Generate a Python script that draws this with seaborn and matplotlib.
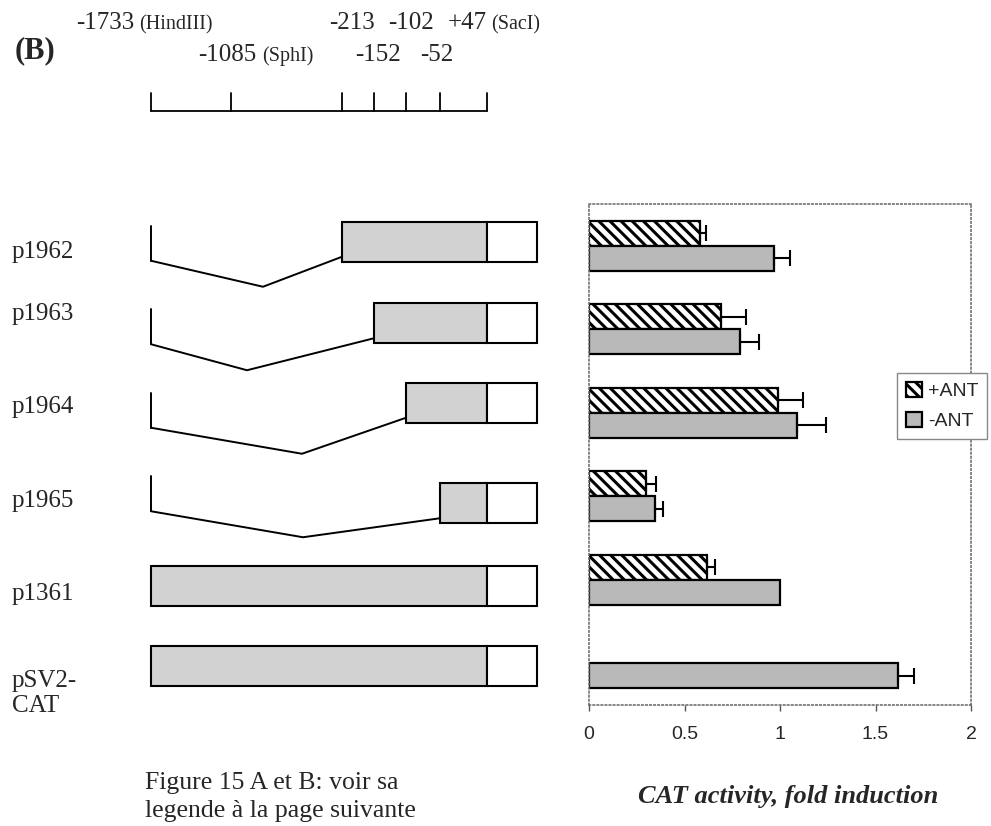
import numpy as np
import pandas as pd
import matplotlib
matplotlib.use('Agg')
import matplotlib.pyplot as plt
import seaborn as sns
from matplotlib.patches import Rectangle

constructs = ['p1962', 'p1963', 'p1964', 'p1965', 'p1361', 'pSV2-\nCAT']
plus_ant = [0.58, 0.69, 0.99, 0.30, 0.62, np.nan]
plus_ant_err = [0.03, 0.13, 0.13, 0.05, 0.04, np.nan]
minus_ant = [0.97, 0.79, 1.09, 0.345, 1.00, 1.62]
minus_ant_err = [0.08, 0.10, 0.15, 0.04, np.nan, 0.08]
x_ticks = [0, 0.5, 1, 1.5, 2]
x_ticklabels = ['0', '0.5', '1', '1.5', '2']

# promoter map, bp positions and where they sit on the drawn scale
map_sites = [-1733, -1085, -213, -152, -102, -52, 47]
site_labels = ['-1733', '-1085', '-213', '-152', '-102', '-52', '+47']
site_enzymes = ['(HindIII)', '(SphI)', '', '', '', '', '(SacI)']
site_x = [151, 231, 342, 374, 406, 440, 487]
fragment_start = [-213, -152, -102, -52, -1733, -1733]
deletion = [True, True, True, True, False, False]
junction_x = [263, 247, 302, 303, None, None]

caption = 'Figure 15 A et B: voir sa\nlegende à la page suivante'

sns.set_style('white')
plt.rcParams['font.family'] = ['Liberation Serif', 'DejaVu Serif']
plt.rcParams['hatch.linewidth'] = 2.2

W, H = 991, 826
ax_top, ax_bot = 204, 705
ax_l, ax_r = 589, 971
pitch = (ax_bot - ax_top) / len(constructs)

fig = plt.figure(figsize=(W / 100, H / 100), dpi=100)

# schematic drawn in pixel units
ax_d = fig.add_axes([0, 0, 1, 1])
ax_d.set_xlim(0, W)
ax_d.set_ylim(H, 0)
ax_d.axis('off')

ax = fig.add_axes([ax_l / W, 1 - ax_bot / H, (ax_r - ax_l) / W, (ax_bot - ax_top) / H])

df = pd.DataFrame({
    'construct': constructs * 2,
    'treatment': ['+ANT'] * len(constructs) + ['-ANT'] * len(constructs),
    'activity': plus_ant + minus_ant,
    'err': plus_ant_err + minus_ant_err,
})

sns.barplot(data=df.dropna(subset=['activity']), x='activity', y='construct',
            hue='treatment', order=constructs, hue_order=['+ANT', '-ANT'],
            orient='h', width=0.6, palette=['white', '#b9b9b9'], saturation=1,
            edgecolor='black', linewidth=1.6, errorbar=None, ax=ax)

for bar in ax.containers[0]:
    bar.set_hatch('\\\\\\')

err_lookup = {(c, t): e for c, t, e in zip(df.construct, df.treatment, df.err)}
for cont, treat in zip(ax.containers, ['+ANT', '-ANT']):
    for bar in cont:
        yc = bar.get_y() + bar.get_height() / 2
        e = err_lookup[(constructs[int(round(yc))], treat)]
        if np.isnan(e):
            continue
        ax.errorbar(bar.get_width(), yc, xerr=[[0], [e]], fmt='none', ecolor='black',
                    elinewidth=1.5, capsize=5.5, capthick=1.5)

ax.set_xlim(0, 2)
ax.set_ylim(len(constructs) - 0.5, -0.5)
ax.set_xticks(x_ticks)
ax.set_xticklabels(x_ticklabels, family='Liberation Sans', fontsize=14)
ax.set_yticks([])
ax.set_ylabel('')
for s in ax.spines.values():
    s.set_visible(True)
    s.set_linestyle(':')
    s.set_color('#666666')
    s.set_linewidth(1.1)
ax.tick_params(axis='x', bottom=True, length=4, width=1, color='#555555', pad=11)

ax.set_xlabel('CAT activity, fold induction', fontsize=19, fontweight='bold',
              fontstyle='italic', family='Liberation Serif')
ax.xaxis.set_label_coords(0.52, (ax_bot - 785) / (ax_bot - ax_top))

ax.legend(handles=list(ax.containers), labels=['+ANT', '-ANT'], loc='upper left',
          bbox_to_anchor=(897 / W, 1 - 373 / H), bbox_transform=fig.transFigure,
          borderaxespad=0, frameon=True, fancybox=False, edgecolor='#888888',
          framealpha=1, prop={'family': 'Liberation Sans', 'size': 14},
          handlelength=0.85, handleheight=0.85, handletextpad=0.3,
          borderpad=0.45, labelspacing=0.6)

# promoter constructs
site_pos = dict(zip(map_sites, site_x))
row_y = [ax_top + pitch * (i + 0.5) for i in range(len(constructs))]
box_dy = [-4, -6, -10, 7, 6, 3]
label_dy = [12, -9, 0, 11, 20, 24]
box_h = 40
cat_end = 537
for i, name in enumerate(constructs):
    yc = row_y[i] + box_dy[i]
    x0 = site_pos[fragment_start[i]]
    x1 = site_pos[47]
    ax_d.add_patch(Rectangle((x0, yc - box_h / 2), x1 - x0, box_h,
                             facecolor='#d2d2d2', edgecolor='black', lw=1.5))
    ax_d.add_patch(Rectangle((x1, yc - box_h / 2), cat_end - x1, box_h,
                             facecolor='white', edgecolor='black', lw=1.5))
    if deletion[i]:
        xs = site_pos[-1733]
        ax_d.plot([xs, xs], [row_y[i] - 20, row_y[i] + 15], color='black', lw=1.4)
        ax_d.plot([xs, junction_x[i], x0], [row_y[i] + 15, row_y[i] + 41, yc + 15],
                  color='black', lw=1.4)
    for k, line in enumerate(name.split('\n')):
        ax_d.text(12, row_y[i] + label_dy[i] + 25 * k, line, fontsize=18, va='baseline')

# map scale
ax_d.plot([site_x[0], site_x[-1]], [111, 111], color='black', lw=1.3)
for x in site_x:
    ax_d.plot([x, x], [93, 111], color='black', lw=1.3)

label_x = [76, 198, 329, 355, 388, 420, 448]
enzyme_x = [139, 262, None, None, None, None, 491]
for k, (lab, enz) in enumerate(zip(site_labels, site_enzymes)):
    base = 29 if k % 2 == 0 else 61
    ax_d.text(label_x[k], base, lab, fontsize=18, va='baseline')
    if enz:
        ax_d.text(enzyme_x[k], base, enz, fontsize=14.5, va='baseline')
ax_d.text(15, 58, '(B)', fontsize=22, fontweight='bold', va='baseline')

for k, line in enumerate(caption.split('\n')):
    ax_d.text(145, 789 + 28 * k, line, fontsize=18.5, va='baseline')

fig.savefig('out.png', dpi=100)
